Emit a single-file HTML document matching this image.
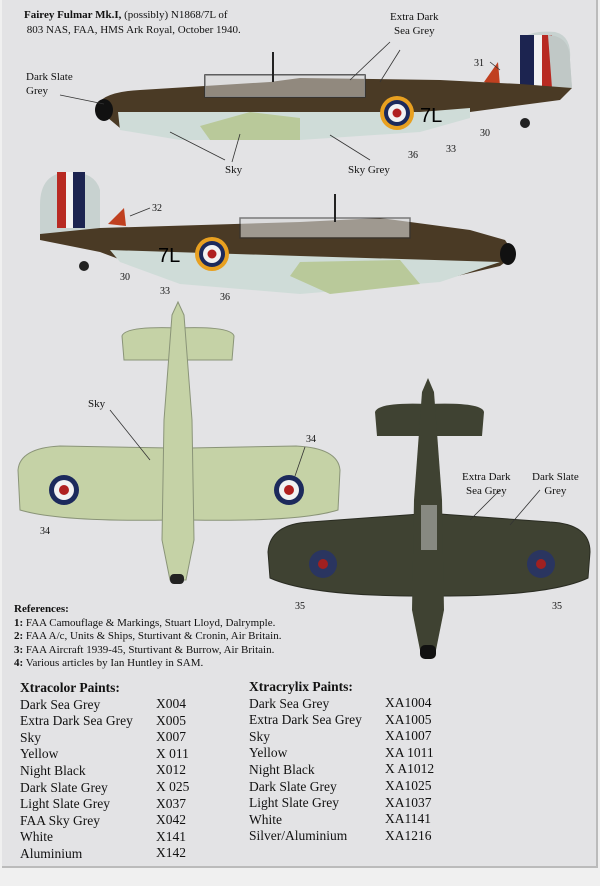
<!DOCTYPE html>
<html><head><meta charset="utf-8"><style>
html,body{margin:0;padding:0;}
body{width:600px;height:886px;background:#f0f0f0;position:relative;overflow:hidden;font-family:"Liberation Serif",serif;color:#111;}
#frame{position:absolute;left:2px;top:0;width:594px;height:866px;background:#e3e3e5;border-right:2px solid #bbb;border-bottom:2px solid #bbb;}
.t{position:absolute;white-space:nowrap;}
svg{position:absolute;left:0;top:0;}
.p{font-size:13.5px;line-height:16.6px;}
</style></head><body>
<div id="frame"></div>
<svg width="600" height="886" viewBox="0 0 600 886">
<!-- side view 1 -->
<path d="M520,40 Q530,30 555,32 Q572,36 570,60 L572,88 L520,90 Z" fill="#c8d2d0"/>
<rect x="520" y="35" width="14" height="54" fill="#1c2450"/>
<rect x="534" y="35" width="8" height="54" fill="#f2f2f2"/>
<rect x="542" y="35" width="10" height="54" fill="#b82a22"/>
<path d="M548,35 Q570,36 570,60 L572,88 L552,88 Z" fill="#c0c8c6"/>
<path d="M484,82 L498,62 L500,86 Z" fill="#c04020"/>
<path d="M96,108 Q100,92 140,90 L270,82 L300,78 L440,80 L520,84 L572,88 L560,100 L470,112 L420,130 L300,138 L180,138 L120,128 Z" fill="#4a3a25"/>
<path d="M118,112 L300,112 L420,112 L470,108 L470,118 L420,132 L300,140 L180,140 L120,130 Z" fill="#cfdcd8"/>
<path d="M200,126 L250,112 L300,118 L300,140 L210,140 Z" fill="#b9c99a"/>
<ellipse cx="104" cy="110" rx="9" ry="11" fill="#111"/>
<rect x="205" y="75" width="160" height="22" fill="none" stroke="#333" stroke-width="1.5"/>
<rect x="205" y="75" width="160" height="22" fill="#d8d8d8" opacity=".5"/>
<line x1="273" y1="52" x2="273" y2="82" stroke="#222" stroke-width="2"/>
<circle cx="397" cy="113" r="17" fill="#e8a020"/><circle cx="397" cy="113" r="13" fill="#1c2a5c"/><circle cx="397" cy="113" r="9" fill="#f2f2f2"/><circle cx="397" cy="113" r="4.5" fill="#b02020"/>
<text x="420" y="122" font-size="20" font-family="Liberation Sans">7L</text>
<circle cx="525" cy="123" r="5" fill="#222"/>
<!-- side view 2 -->
<path d="M40,205 Q40,172 70,172 Q95,172 100,190 L100,240 L40,235 Z" fill="#c8d2d0"/>
<rect x="73" y="172" width="12" height="56" fill="#1c2450"/>
<rect x="66" y="172" width="7" height="56" fill="#f2f2f2"/>
<rect x="57" y="172" width="9" height="56" fill="#b82a22"/>
<path d="M108,224 L124,208 L126,226 Z" fill="#c04020"/>
<path d="M40,234 L100,228 L300,222 L380,218 L470,230 L505,240 L515,255 L500,266 L440,280 L300,292 L180,282 L100,252 L40,240 Z" fill="#4a3a25"/>
<path d="M110,250 L300,256 L500,262 L440,282 L300,294 L180,284 L120,262 Z" fill="#cfdcd8"/>
<path d="M300,262 L400,260 L420,284 L330,294 L290,276 Z" fill="#b9c99a"/>
<ellipse cx="508" cy="254" rx="8" ry="11" fill="#111"/>
<rect x="240" y="218" width="170" height="20" fill="#d8d8d8" opacity=".6" stroke="#333" stroke-width="1.5"/>
<line x1="335" y1="194" x2="335" y2="222" stroke="#222" stroke-width="2"/>
<circle cx="212" cy="254" r="17" fill="#e8a020"/><circle cx="212" cy="254" r="13" fill="#1c2a5c"/><circle cx="212" cy="254" r="9" fill="#f2f2f2"/><circle cx="212" cy="254" r="4.5" fill="#b02020"/>
<text x="158" y="262" font-size="20" font-family="Liberation Sans">7L</text>
<circle cx="84" cy="266" r="5" fill="#222"/>
<!-- plan view sky -->
<path d="M18,470 Q20,448 60,446 L170,448 L190,448 L296,446 Q338,448 340,470 L338,510 Q300,522 190,520 L170,520 Q60,522 20,510 Z" fill="#c5d2a6" stroke="#8a9478" stroke-width="1"/>
<path d="M122,336 Q125,326 178,328 Q231,326 234,336 L232,360 L124,360 Z" fill="#c5d2a6" stroke="#8a9478"/>
<path d="M172,315 L178,302 L184,315 L192,420 L194,540 L186,580 L170,580 L162,540 L164,420 Z" fill="#c5d2a6" stroke="#8a9478"/>
<rect x="170" y="574" width="14" height="10" rx="4" fill="#222"/>
<circle cx="64" cy="490" r="15" fill="#1c2a5c"/><circle cx="64" cy="490" r="10" fill="#f2f2f2"/><circle cx="64" cy="490" r="5" fill="#b02020"/>
<circle cx="289" cy="490" r="15" fill="#1c2a5c"/><circle cx="289" cy="490" r="10" fill="#f2f2f2"/><circle cx="289" cy="490" r="5" fill="#b02020"/>
<!-- underside dark -->
<path d="M268,552 Q270,524 310,522 L420,514 L440,514 L550,522 Q590,524 590,552 L588,578 Q550,596 440,596 L420,596 Q310,596 270,578 Z" fill="#3f4232" stroke="#2a2c22"/>
<path d="M375,412 Q378,402 428,404 Q482,402 484,412 L482,436 L377,436 Z" fill="#3f4232"/>
<path d="M422,392 L428,378 L434,392 L442,500 L444,610 L436,650 L420,650 L412,610 L414,500 Z" fill="#3f4232"/>
<rect x="421" y="505" width="16" height="45" fill="#d0d0d0" opacity=".5"/>
<rect x="420" y="645" width="16" height="14" rx="5" fill="#111"/>
<circle cx="323" cy="564" r="14" fill="#2a3560"/><circle cx="323" cy="564" r="5" fill="#a02020"/>
<circle cx="541" cy="564" r="14" fill="#2a3560"/><circle cx="541" cy="564" r="5" fill="#a02020"/>
<!-- leader lines -->
<g stroke="#333" stroke-width="0.8">
<line x1="60" y1="95" x2="104" y2="104"/><line x1="390" y1="42" x2="350" y2="80"/><line x1="400" y1="50" x2="380" y2="82"/>
<line x1="490" y1="62" x2="500" y2="70"/><line x1="225" y1="160" x2="170" y2="132"/><line x1="232" y1="162" x2="240" y2="134"/>
<line x1="370" y1="160" x2="330" y2="135"/><line x1="150" y1="208" x2="130" y2="216"/>
<line x1="110" y1="410" x2="150" y2="460"/><line x1="305" y1="447" x2="295" y2="476"/>
<line x1="500" y1="490" x2="470" y2="520"/><line x1="540" y1="490" x2="510" y2="525"/>
</g>
</svg>
<div class="t" style="left:24px;top:8px;font-size:11px;line-height:15px;"><b>Fairey Fulmar Mk.I,</b> (possibly) N1868/7L of<br>&nbsp;803 NAS, FAA, HMS Ark Royal, October 1940.</div>
<div class="t" style="left:390px;top:10px;font-size:11px;line-height:14px;text-align:center;">Extra Dark<br>Sea Grey</div>
<div class="t" style="left:26px;top:70px;font-size:11px;line-height:14px;">Dark Slate<br>Grey</div>
<div class="t" style="left:474px;top:58px;font-size:10px;">31</div>
<div class="t" style="left:480px;top:128px;font-size:10px;">30</div>
<div class="t" style="left:446px;top:144px;font-size:10px;">33</div>
<div class="t" style="left:408px;top:150px;font-size:10px;">36</div>
<div class="t" style="left:225px;top:164px;font-size:11px;">Sky</div>
<div class="t" style="left:348px;top:164px;font-size:11px;">Sky Grey</div>
<div class="t" style="left:152px;top:203px;font-size:10px;">32</div>
<div class="t" style="left:120px;top:272px;font-size:10px;">30</div>
<div class="t" style="left:160px;top:286px;font-size:10px;">33</div>
<div class="t" style="left:220px;top:292px;font-size:10px;">36</div>
<div class="t" style="left:88px;top:398px;font-size:11px;">Sky</div>
<div class="t" style="left:306px;top:434px;font-size:10px;">34</div>
<div class="t" style="left:40px;top:526px;font-size:10px;">34</div>
<div class="t" style="left:462px;top:470px;font-size:11px;line-height:14px;text-align:center;">Extra Dark<br>Sea Grey</div>
<div class="t" style="left:532px;top:470px;font-size:11px;line-height:14px;text-align:center;">Dark Slate<br>Grey</div>
<div class="t" style="left:295px;top:601px;font-size:10px;">35</div>
<div class="t" style="left:552px;top:601px;font-size:10px;">35</div>
<div class="t" style="left:14px;top:603px;font-size:11px;line-height:13.5px;"><b>References:</b><br><b>1:</b> FAA Camouflage &amp; Markings, Stuart Lloyd, Dalrymple.<br><b>2:</b> FAA A/c, Units &amp; Ships, Sturtivant &amp; Cronin, Air Britain.<br><b>3:</b> FAA Aircraft 1939-45, Sturtivant &amp; Burrow, Air Britain.<br><b>4:</b> Various articles by Ian Huntley in SAM.</div>
<div class="t p" style="left:20px;top:680px;"><b>Xtracolor Paints:</b><br>Dark Sea Grey<br>Extra Dark Sea Grey<br>Sky<br>Yellow<br>Night Black<br>Dark Slate Grey<br>Light Slate Grey<br>FAA Sky Grey<br>White<br>Aluminium</div>
<div class="t p" style="left:156px;top:696px;">X004<br>X005<br>X007<br>X 011<br>X012<br>X 025<br>X037<br>X042<br>X141<br>X142</div>
<div class="t p" style="left:249px;top:679px;"><b>Xtracrylix Paints:</b><br>Dark Sea Grey<br>Extra Dark Sea Grey<br>Sky<br>Yellow<br>Night Black<br>Dark Slate Grey<br>Light Slate Grey<br>White<br>Silver/Aluminium</div>
<div class="t p" style="left:385px;top:695px;">XA1004<br>XA1005<br>XA1007<br>XA 1011<br>X A1012<br>XA1025<br>XA1037<br>XA1141<br>XA1216</div>
</body></html>
